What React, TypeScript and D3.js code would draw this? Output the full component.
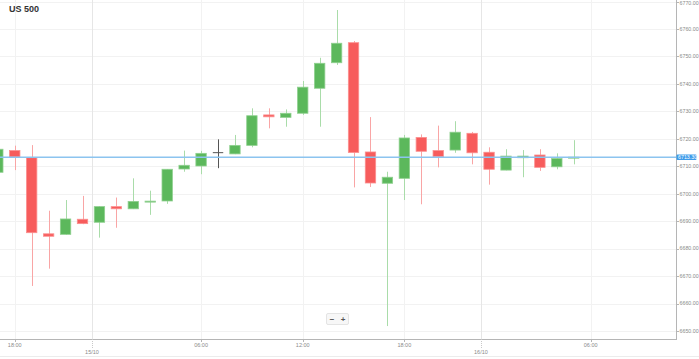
import React from "react";
import * as d3 from "d3";

const W = 699;
const H = 359;

// Hourly candles (index 0 = first partially visible candle)
const opens = [6707.8, 6715.7, 6713.1, 6685.4, 6685.2, 6690.7, 6689.6, 6695.3, 6694.5, 6697.0, 6697.35, 6709.0, 6710.1, 6714.95, 6714.5, 6717.6, 6728.7, 6727.8, 6729.3, 6738.4, 6747.7, 6755.0, 6715.2, 6703.8, 6705.6, 6720.5, 6715.7, 6715.9, 6722.0, 6715.1, 6708.6, 6713.1, 6714.1, 6709.8, 6713.0];
const highs = [6717.0, 6717.5, 6717.7, 6693.8, 6697.7, 6699.2, 6695.5, 6698.6, 6705.6, 6701.1, 6709.0, 6715.7, 6715.6, 6719.8, 6721.4, 6731.1, 6731.1, 6730.7, 6741.05, 6749.5, 6766.9, 6755.6, 6727.9, 6708.0, 6721.4, 6721.6, 6724.8, 6726.4, 6722.5, 6716.9, 6716.2, 6715.9, 6716.2, 6714.7, 6719.5];
const lows = [6706.0, 6708.6, 6666.4, 6672.7, 6685.0, 6688.9, 6684.0, 6687.6, 6694.4, 6692.3, 6696.3, 6708.0, 6707.1, 6709.3, 6714.4, 6716.9, 6723.8, 6724.4, 6728.7, 6724.4, 6746.9, 6702.3, 6702.45, 6651.8, 6697.7, 6696.15, 6709.6, 6714.9, 6710.7, 6703.3, 6708.5, 6706.0, 6708.3, 6708.9, 6710.7];
const closes = [6716.2, 6713.4, 6685.8, 6684.5, 6690.8, 6689.1, 6695.3, 6694.5, 6697.2, 6697.3, 6708.9, 6710.35, 6714.7, 6714.95, 6717.6, 6728.4, 6728.0, 6729.3, 6738.8, 6747.5, 6754.8, 6715.0, 6703.9, 6706.0, 6720.3, 6715.45, 6713.5, 6722.4, 6714.9, 6708.9, 6713.7, 6713.7, 6709.6, 6712.8, 6713.3];

const priceTicks = [6650, 6660, 6670, 6680, 6690, 6700, 6710, 6720, 6730, 6740, 6750, 6760, 6770];
const timeTickIdx = [1, 12, 18, 24, 35];
const timeTickLabels = ["18:00", "06:00", "12:00", "18:00", "06:00"];
const dateTickIdx = [5.56, 28.52];
const dateTickLabels = ["15/10", "16/10"];
const currentPrice = 6713.3;
const title = "US 500";

const PLOT_R = 676;
const PLOT_B = 339;

export default function App() {
  const x = d3.scaleLinear().domain([0, 40]).range([-2.2, -2.2 + 40 * 16.94]);
  const y = d3.scaleLinear().domain([6650, 6770]).range([331, 1.5]);
  const bodyW = 10.4;
  const font = "'Liberation Sans', Arial, sans-serif";

  const candles = opens.map((o, i) => ({ i, o, h: highs[i], l: lows[i], c: closes[i] }));

  return (
    <div style={{ position: "fixed", left: 0, top: 0, width: W, height: H, background: "#fff" }}>
      <svg width={W} height={H} style={{ display: "block" }}>
        <defs>
          <clipPath id="plotclip">
            <rect x={0} y={0} width={PLOT_R} height={PLOT_B} />
          </clipPath>
        </defs>
        <rect x={0} y={0} width={W} height={H} fill="#fff" />
        {/* horizontal grid */}
        {priceTicks.map((p) => (
          <line key={"hg" + p} x1={0} x2={PLOT_R} y1={Math.round(y(p)) + 0.5} y2={Math.round(y(p)) + 0.5} stroke="#f2f2f2" strokeWidth={1} />
        ))}
        {/* vertical grid */}
        {timeTickIdx.map((t, k) => (
          <line key={"vg" + k} x1={Math.round(x(t)) + 0.5} x2={Math.round(x(t)) + 0.5} y1={0} y2={PLOT_B} stroke="#f2f2f2" strokeWidth={1} />
        ))}
        {dateTickIdx.map((t, k) => (
          <line key={"dg" + k} x1={Math.round(x(t)) + 0.5} x2={Math.round(x(t)) + 0.5} y1={0} y2={PLOT_B} stroke="#e6e6e6" strokeWidth={1} />
        ))}
        {/* candles */}
        <g clipPath="url(#plotclip)">
          {candles.map((d) => {
            const up = d.c > d.o;
            const flat = Math.abs(d.c - d.o) < 0.01;
            const fill = flat ? "#555" : up ? "#5cb85c" : "#f75c5c";
            const wick = flat ? "#555" : up ? "#a9dca9" : "#f9a5a5";
            const stroke = flat ? "#555" : up ? "#8fd08f" : "#fb8f8f";
            const cx = x(d.i);
            const top = y(Math.max(d.o, d.c));
            const bot = y(Math.min(d.o, d.c));
            const hgt = Math.max(bot - top, 1);
            return (
              <g key={"c" + d.i}>
                <line x1={Math.round(cx) + 0.5} x2={Math.round(cx) + 0.5} y1={y(d.h)} y2={y(d.l)} stroke={wick} strokeWidth={1} />
                {flat ? (
                  <line x1={cx - bodyW / 2} x2={cx + bodyW / 2} y1={y(d.o)} y2={y(d.o)} stroke={fill} strokeWidth={1} />
                ) : (
                  <rect x={cx - bodyW / 2} y={top} width={bodyW} height={hgt} fill={fill} stroke={stroke} strokeWidth={0.8} />
                )}
              </g>
            );
          })}
        </g>
        {/* current price line */}
        <line x1={0} x2={PLOT_R} y1={y(currentPrice)} y2={y(currentPrice)} stroke="#8cc4ef" strokeWidth={1.5} />
        {/* axes */}
        <line x1={PLOT_R + 0.5} x2={PLOT_R + 0.5} y1={0} y2={PLOT_B} stroke="#b5b5b5" strokeWidth={1} />
        <line x1={0} x2={PLOT_R + 1} y1={PLOT_B + 0.5} y2={PLOT_B + 0.5} stroke="#b5b5b5" strokeWidth={1} />
        <line x1={0} x2={W} y1={356.5} y2={356.5} stroke="#ececec" strokeWidth={1} />
        {priceTicks.map((p) => (
          <g key={"yt" + p}>
            <line x1={PLOT_R} x2={PLOT_R + 3} y1={Math.round(y(p)) + 0.5} y2={Math.round(y(p)) + 0.5} stroke="#b5b5b5" />
            <text x={PLOT_R + 3.5} y={Math.max(y(p), 3.2)} dy="0.35em" fontSize={5.3} fill="#8a8a8a" fontFamily={font}>
              {d3.format(".2f")(p)}
            </text>
          </g>
        ))}
        {/* current price badge */}
        <rect x={PLOT_R + 0.5} y={y(currentPrice) - 2.7} width={20} height={5.4} rx={1} fill="#3d9be9" />
        <text x={PLOT_R + 2} y={y(currentPrice)} dy="0.35em" fontSize={5.3} fill="#fff" fontFamily={font}>
          {d3.format(".2f")(currentPrice)}
        </text>
        {/* x ticks */}
        {timeTickIdx.map((t, k) => (
          <g key={"xt" + k}>
            <line x1={Math.round(x(t)) + 0.5} x2={Math.round(x(t)) + 0.5} y1={PLOT_B} y2={PLOT_B + 3} stroke="#b5b5b5" />
            <text x={x(t)} y={345} dy="0.35em" textAnchor="middle" fontSize={5.5} fill="#8a8a8a" fontFamily={font}>
              {timeTickLabels[k]}
            </text>
          </g>
        ))}
        {dateTickIdx.map((t, k) => (
          <g key={"xd" + k}>
            <line x1={Math.round(x(t)) + 0.5} x2={Math.round(x(t)) + 0.5} y1={PLOT_B} y2={PLOT_B + 9} stroke="#c8c8c8" strokeDasharray="1,1" />
            <text x={x(t)} y={352} dy="0.35em" textAnchor="middle" fontSize={5.5} fill="#8a8a8a" fontFamily={font}>
              {dateTickLabels[k]}
            </text>
          </g>
        ))}
        {/* zoom buttons */}
        <rect x={326.5} y={313.5} width={22} height={11} rx={1.5} fill="#f7f7f7" stroke="#e4e4e4" />
        <text x={332} y={319} dy="0.35em" textAnchor="middle" fontSize={8} fontWeight="bold" fill="#555" fontFamily={font}>−</text>
        <text x={343} y={319} dy="0.35em" textAnchor="middle" fontSize={8} fontWeight="bold" fill="#555" fontFamily={font}>+</text>
        {/* title */}
        <text x={9} y={8.5} dy="0.35em" fontSize={9} fontWeight="bold" fill="#333" fontFamily={font}>
          {title}
        </text>
      </svg>
    </div>
  );
}
